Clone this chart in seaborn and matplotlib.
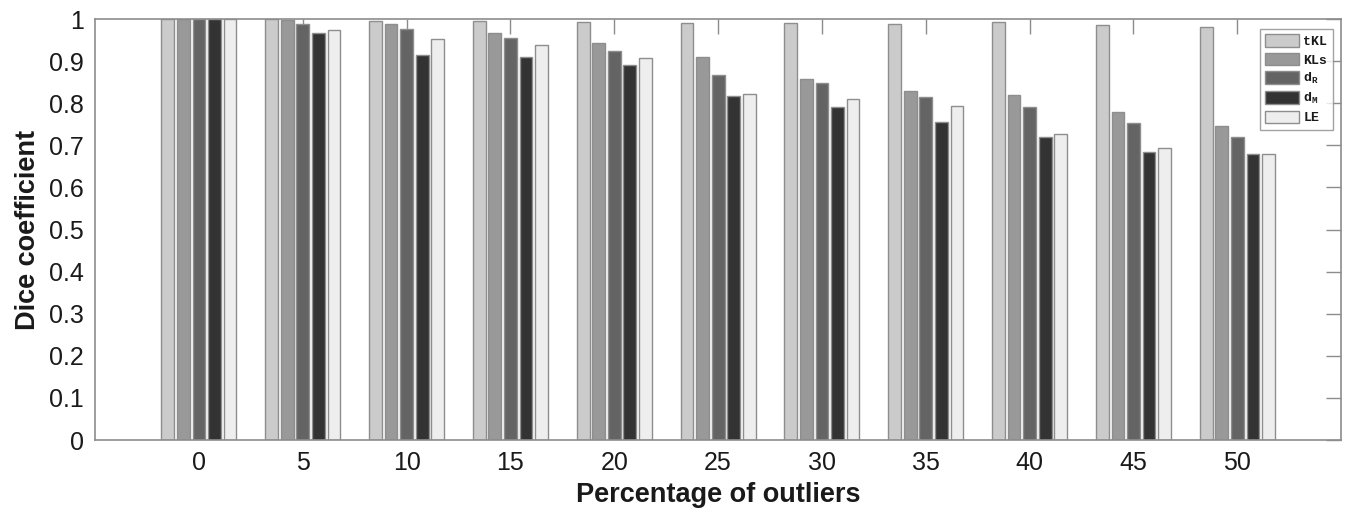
import pandas as pd
import numpy as np
import seaborn as sns
import matplotlib.pyplot as plt

# -------------------------------
# Data
# -------------------------------
outliers = ["0", "5", "10", "15", "20", "25", "30", "35", "40", "45", "50"]
methods = ["tKL", "KLs", "dR", "dM", "LE"]
legend_labels = ["tKL", "KLs", r"d$_\mathregular{R}$", r"d$_\mathregular{M}$", "LE"]

tkl = [1.000, 1.000, 0.996, 0.996, 0.993, 0.990, 0.990, 0.988, 0.994, 0.986, 0.980]
kls = [1.000, 0.998, 0.988, 0.967, 0.943, 0.909, 0.857, 0.829, 0.820, 0.779, 0.747]
d_r = [1.000, 0.988, 0.977, 0.954, 0.925, 0.867, 0.848, 0.815, 0.790, 0.753, 0.721]
d_m = [1.000, 0.967, 0.914, 0.909, 0.890, 0.818, 0.790, 0.755, 0.720, 0.685, 0.679]
le = [1.000, 0.975, 0.952, 0.938, 0.908, 0.823, 0.809, 0.794, 0.728, 0.693, 0.679]

colors = ["#cbcbcb", "#999999", "#646464", "#333333", "#eeeeee"]

# long form table for seaborn
df = pd.DataFrame({
    "Percentage": outliers * 5,
    "Method": np.repeat(methods, len(outliers)),
    "Dice": tkl + kls + d_r + d_m + le,
})

sns.set_style("white")
plt.rcParams["font.family"] = ["Liberation Sans", "DejaVu Sans"]
plt.rcParams["mathtext.fontset"] = "custom"
plt.rcParams["mathtext.rm"] = "Liberation Mono"
plt.rcParams["text.color"] = "#1a1a1a"
plt.rcParams["axes.labelcolor"] = "#1a1a1a"
plt.rcParams["xtick.labelcolor"] = "#1a1a1a"
plt.rcParams["ytick.labelcolor"] = "#1a1a1a"

fig = plt.figure(figsize=(13.52, 5.15), dpi=100)
ax = fig.add_axes([0.0703, 0.1456, 0.9217, 0.8174])

sns.barplot(data=df, x="Percentage", y="Dice", hue="Method", order=outliers,
            hue_order=methods, palette=colors, width=0.75, gap=0.18,
            edgecolor="#8e8e8e", linewidth=1.0, saturation=1, ax=ax)

ax.set_xlim(-1, 11)
ax.set_ylim(0, 1)
ax.set_yticks(np.arange(0, 1.01, 0.1))
ax.set_yticklabels(["0", "0.1", "0.2", "0.3", "0.4", "0.5", "0.6", "0.7", "0.8", "0.9", "1"])

ax.set_xlabel("Percentage of outliers", fontsize=19.5, fontweight="bold", labelpad=5)
ax.set_ylabel("Dice coefficient", fontsize=19.5, fontweight="bold", labelpad=6)

ax.tick_params(axis="both", labelsize=18, direction="in", length=11, width=1,
               color="#8c8c8c", top=True, right=True, pad=8)
for side in ax.spines.values():
    side.set_color("#8c8c8c")
    side.set_linewidth(1.2)

# legend with subscripts, small mono font
handles = ax.get_legend().legend_handles
ax.legend(handles, legend_labels, loc="upper right", bbox_to_anchor=(0.9985, 0.992),
          prop={"family": "Liberation Mono", "size": 9.5, "weight": "bold"},
          frameon=True, fancybox=False, edgecolor="#8c8c8c", handlelength=2.6,
          handleheight=1.1, labelspacing=0.35, handletextpad=0.3, borderpad=0.4)

fig.savefig("out.png", dpi=100)
